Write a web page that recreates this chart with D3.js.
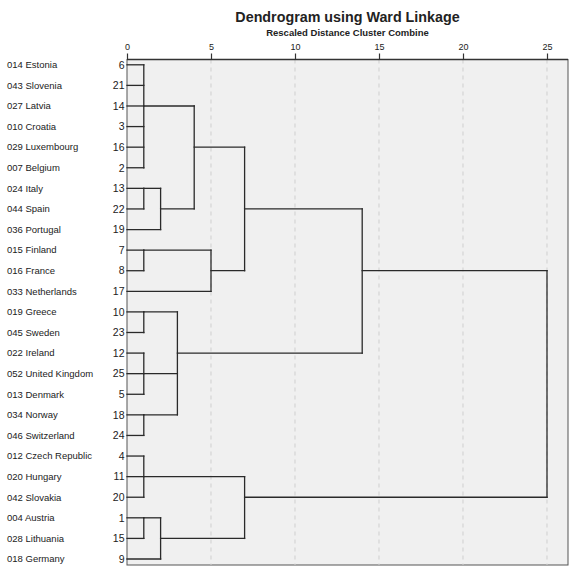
<!DOCTYPE html>
<html>
<head>
<meta charset="utf-8">
<script src="https://cdn.jsdelivr.net/npm/d3@7"></script>
<style>
  body { margin: 0; background: #fff; }
  text { font-family: "Liberation Sans", Arial, sans-serif; fill: #222; }
</style>
</head>
<body>
<div id="container"></div>
<script>
// leaves, in dendrogram order
var labels = ["014 Estonia", "043 Slovenia", "027 Latvia", "010 Croatia", "029 Luxembourg",
  "007 Belgium", "024 Italy", "044 Spain", "036 Portugal", "015 Finland", "016 France",
  "033 Netherlands", "019 Greece", "045 Sweden", "022 Ireland", "052 United Kingdom",
  "013 Denmark", "034 Norway", "046 Switzerland", "012 Czech Republic", "020 Hungary",
  "042 Slovakia", "004 Austria", "028 Lithuania", "018 Germany"]
var caseIds = [6, 21, 14, 3, 16, 2, 13, 22, 19, 7, 8, 17, 10, 23, 12, 25, 5, 18, 24, 4, 11, 20, 1, 15, 9]

// merges: children are leaf indices or "m"+merge index
var mergeChildren = [
  [0, 1, 2, 3, 4, 5], [6, 7], ["m1", 8], ["m0", "m2"], [9, 10], ["m4", 11], ["m3", "m5"],
  [12, 13], [14, 15, 16], [17, 18], ["m7", "m8", "m9"], ["m6", "m10"],
  [19, 20, 21], [22, 23], ["m13", 24], ["m12", "m14"], ["m11", "m15"]
]
var mergeDist = [1, 1, 2, 4, 1, 5, 7, 1, 1, 1, 3, 14, 1, 1, 2, 7, 25]

var ticks = [0, 5, 10, 15, 20, 25]

var width = 570, height = 567
var panel = { left: 127, right: 568, top: 59.5, bottom: 565 }

var svg = d3.select("#container").append("svg")
    .attr("width", width)
    .attr("height", height)

var x = d3.scaleLinear().domain([0, 25]).range([panel.left, 547])
var y = d3.scaleLinear().domain([0, labels.length - 1]).range([64.8, 559])

// panel
svg.append("rect")
  .attr("x", panel.left).attr("y", panel.top)
  .attr("width", panel.right - panel.left).attr("height", panel.bottom - panel.top)
  .attr("fill", "#f0f0f0")
  .attr("stroke", "#555").attr("stroke-width", 1)

// grid
svg.selectAll(".grid")
  .data(ticks.slice(1))
  .enter().append("line")
    .attr("class", "grid")
    .attr("x1", d => x(d)).attr("x2", d => x(d))
    .attr("y1", panel.top).attr("y2", panel.bottom)
    .attr("stroke", "#cfcfcf")
    .attr("stroke-dasharray", "4,4")

// top axis
var axis = svg.append("g")
    .attr("transform", "translate(0," + panel.top + ")")
    .call(d3.axisTop(x).tickValues(ticks).tickSize(6).tickPadding(4))
axis.select(".domain").attr("d", "M" + panel.left + ",0H" + panel.right).attr("stroke", "#333").attr("stroke-width", 1.5)
axis.selectAll(".tick line").attr("stroke", "#333").attr("stroke-width", 1.2)
axis.selectAll(".tick text")
  .style("font-family", "Liberation Sans, Arial, sans-serif")
  .style("font-size", "9px")
  .attr("fill", "#333")

// titles
var cx = (panel.left + panel.right) / 2
svg.append("text")
  .attr("x", cx).attr("y", 22)
  .attr("text-anchor", "middle")
  .style("font-size", "14.3px").style("font-weight", "bold")
  .text("Dendrogram using Ward Linkage")
svg.append("text")
  .attr("x", cx).attr("y", 36)
  .attr("text-anchor", "middle")
  .style("font-size", "9.5px").style("font-weight", "bold")
  .text("Rescaled Distance Cluster Combine")

// labels
svg.selectAll(".lab")
  .data(labels)
  .enter().append("text")
    .attr("class", "lab")
    .attr("x", 7)
    .attr("y", (d, i) => y(i))
    .attr("dy", "0.35em")
    .style("font-size", "9.5px")
    .text(d => d)

svg.selectAll(".cid")
  .data(caseIds)
  .enter().append("text")
    .attr("class", "cid")
    .attr("x", 124.5)
    .attr("y", (d, i) => y(i))
    .attr("dy", "0.36em")
    .attr("text-anchor", "end")
    .style("font-size", "10.5px")
    .text(d => d)

// layout of merges: row = floor of the midpoint of first/last child rows
function rowOf(c) { return typeof c === "number" ? c : mergeRow[+c.slice(1)] }
function distOf(c) { return typeof c === "number" ? 0 : mergeDist[+c.slice(1)] }
var mergeRow = []
mergeChildren.forEach(function(ch, i) {
  mergeRow[i] = Math.floor((rowOf(ch[0]) + rowOf(ch[ch.length - 1])) / 2)
})

var segs = []
mergeChildren.forEach(function(ch, i) {
  var d = mergeDist[i]
  segs.push({ x1: d, x2: d, r1: rowOf(ch[0]), r2: rowOf(ch[ch.length - 1]) })
  ch.forEach(function(c) {
    segs.push({ x1: distOf(c), x2: d, r1: rowOf(c), r2: rowOf(c) })
  })
})

svg.append("g")
  .selectAll("line")
  .data(segs)
  .enter().append("line")
    .attr("x1", d => x(d.x1)).attr("x2", d => x(d.x2))
    .attr("y1", d => y(d.r1)).attr("y2", d => y(d.r2))
    .attr("stroke", "#2a2a2a")
    .attr("stroke-width", 1.3)
    .attr("stroke-linecap", "square")
</script>
</body>
</html>
